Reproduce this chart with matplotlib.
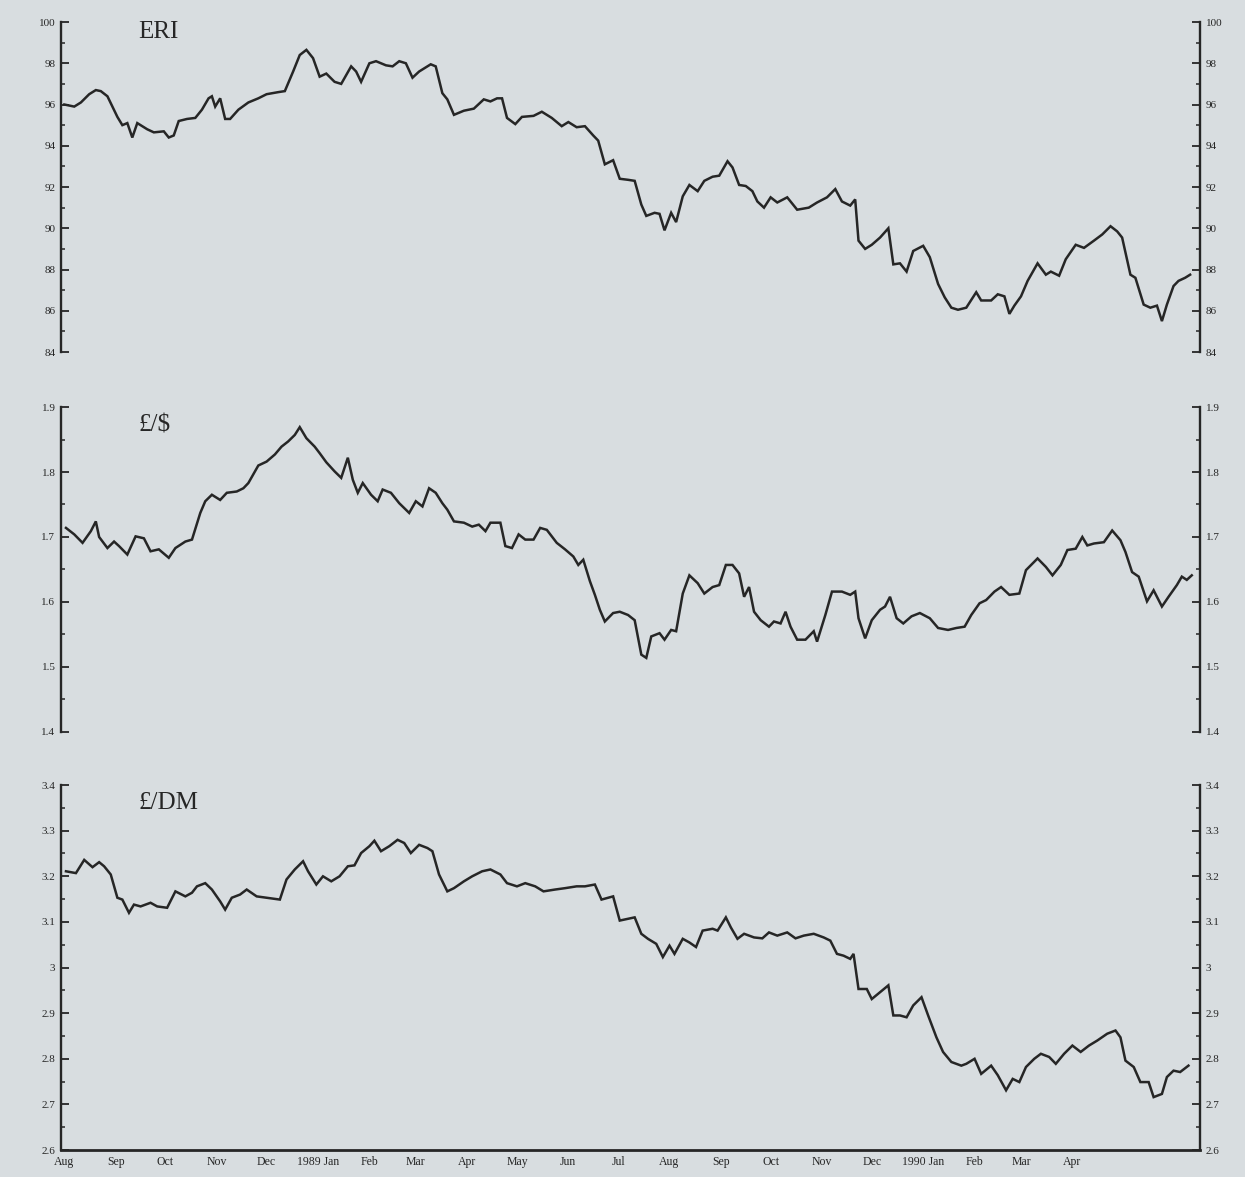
import numpy as np
import pandas as pd
import matplotlib
matplotlib.use("Agg")
import matplotlib.pyplot as plt
from matplotlib.ticker import MultipleLocator, FuncFormatter

# Sterling exchange rates, Aug 1988 - Jun 1990 (days counted from 1 Aug 1988)
start_date = "1988-08-01"

eri_days = [0, 6, 10, 15, 19, 22, 26, 29, 32, 35, 38, 41, 44, 50, 54, 60, 63, 66, 69, 74,
            79, 83, 87, 89, 91, 94, 97, 100, 105, 111, 117, 122, 129, 133, 138, 142, 146, 150,
            154, 158, 163, 167, 173, 176, 179, 184, 188, 194, 198, 202, 206, 210, 214, 221,
            224, 228, 231, 235, 241, 247, 253, 257, 261, 264, 267, 272, 276, 283, 288, 294,
            300, 304, 309, 314, 319, 322, 326, 331, 335,
            340, 344, 348, 351, 356, 359, 362, 366, 369, 373, 377, 382, 386, 391, 395, 400,
            403, 407, 411, 415, 418, 422, 426, 430, 436, 442, 449, 454, 460, 465, 469, 474,
            477, 479, 483, 487, 492, 497, 500, 504, 508, 512, 518, 522, 527, 531, 535, 539,
            544, 550, 553, 559, 563, 567, 570, 573, 577, 581, 587, 592, 595, 600, 604, 610,
            615, 621, 626, 631, 635, 638, 643, 646, 651, 655, 659, 662, 665, 669, 672, 676, 679]
eri_vals = [96.0, 95.9, 96.1, 96.5, 96.7, 96.65, 96.4, 95.9, 95.4, 95.0, 95.1, 94.4, 95.1, 94.8,
            94.65, 94.7, 94.4, 94.5, 95.2, 95.3, 95.35, 95.75, 96.3, 96.4, 95.9, 96.3, 95.3,
            95.3, 95.75, 96.1, 96.3, 96.5, 96.6, 96.65, 97.6, 98.4, 98.65, 98.25, 97.35, 97.5,
            97.1, 97.0, 97.85, 97.6, 97.1, 98.0, 98.1, 97.9, 97.85, 98.1, 98.0, 97.3, 97.6,
            97.95, 97.85, 96.55, 96.25, 95.5, 95.7, 95.8, 96.25, 96.15, 96.3, 96.3, 95.35,
            95.05, 95.4, 95.45, 95.65, 95.35, 94.95, 95.15, 94.9, 94.95, 94.5, 94.25, 93.1,
            93.3, 92.4,
            92.35, 92.3, 91.15, 90.6, 90.75, 90.7, 89.9, 90.75, 90.3, 91.55, 92.1, 91.8, 92.3,
            92.5, 92.55, 93.25, 92.95, 92.1, 92.05, 91.8, 91.3, 91.0, 91.5, 91.25, 91.5, 90.9,
            91.0, 91.25, 91.5, 91.9, 91.3, 91.1, 91.4, 89.4, 89.0, 89.2, 89.55, 90.0, 88.25,
            88.3, 87.9, 88.9, 89.15, 88.6, 87.3, 86.65, 86.15, 86.05, 86.15, 86.9, 86.5, 86.5,
            86.8, 86.7, 85.85, 86.25, 86.7, 87.45, 88.3, 87.75, 87.9, 87.7, 88.5, 89.2, 89.05,
            89.4, 89.7, 90.1, 89.85, 89.55, 87.75, 87.6, 86.3, 86.15, 86.25, 85.5, 86.3, 87.2,
            87.45, 87.6, 87.75]

usd_days = [1, 6, 11, 16, 19, 21, 26, 30, 33, 38, 43, 48, 52, 57, 63, 67, 73, 77, 82, 85, 89,
            94, 98, 104, 108, 111, 117, 122, 127, 131, 135, 139, 142, 146, 151, 154, 158, 163,
            167, 171, 174, 177, 180, 185, 189, 192, 197, 202, 208, 212, 216, 220, 224, 228,
            231, 235, 241, 246, 250, 254, 257, 263, 266, 270, 274, 278, 283, 287, 291, 297,
            302, 307, 310, 313, 317, 320, 323, 326, 331,
            335, 340, 344, 348, 351, 354, 359, 362, 366, 369, 373, 377, 382, 386, 391, 395,
            399, 403, 407, 410, 413, 416, 420, 425, 428, 432, 435, 438, 442, 447, 452, 454,
            459, 463, 469, 474, 477, 479, 483, 487, 492, 495, 498, 502, 506, 511, 516, 522,
            527, 533, 538, 543, 547, 552, 556, 561, 565, 570, 576, 580, 587, 592, 596, 601,
            605, 610, 614, 617, 621, 627, 632, 637, 640, 644, 648, 653, 657, 662, 666, 671,
            674, 677, 680]
usd_vals = [1.714, 1.704, 1.691, 1.709, 1.724, 1.700, 1.683, 1.693, 1.686, 1.673, 1.701, 1.698,
            1.678, 1.681, 1.668, 1.683, 1.693, 1.696, 1.737, 1.755, 1.765, 1.757, 1.768, 1.770,
            1.775, 1.783, 1.810, 1.816, 1.827, 1.839, 1.847, 1.857, 1.869, 1.852, 1.839, 1.829,
            1.815, 1.801, 1.791, 1.822, 1.788, 1.768, 1.783, 1.765, 1.755, 1.773, 1.768, 1.752,
            1.737, 1.755, 1.747, 1.775, 1.768, 1.752, 1.742, 1.724, 1.722, 1.716, 1.719, 1.709,
            1.722, 1.722, 1.686, 1.683, 1.704, 1.696, 1.696, 1.714, 1.711, 1.691, 1.681, 1.670,
            1.657, 1.665, 1.632, 1.611, 1.588, 1.570, 1.583,
            1.585, 1.580, 1.572, 1.519, 1.514, 1.547, 1.552, 1.542, 1.557, 1.555, 1.613, 1.641,
            1.629, 1.613, 1.623, 1.626, 1.657, 1.657, 1.644, 1.608, 1.623, 1.585, 1.572, 1.562,
            1.570, 1.567, 1.585, 1.562, 1.542, 1.542, 1.555, 1.539, 1.580, 1.616, 1.616, 1.611,
            1.616, 1.575, 1.544, 1.572, 1.588, 1.593, 1.608, 1.575, 1.567, 1.578, 1.583, 1.575,
            1.560, 1.557, 1.560, 1.562, 1.580, 1.598, 1.603, 1.616, 1.623, 1.611, 1.613, 1.649,
            1.667, 1.654, 1.641, 1.657, 1.680, 1.682, 1.700, 1.687, 1.690, 1.692, 1.710, 1.695,
            1.677, 1.646, 1.639, 1.601, 1.618, 1.593, 1.608, 1.626, 1.639, 1.634, 1.641]

dm_days = [1, 7, 12, 17, 21, 24, 28, 32, 35, 39, 42, 46, 52, 56, 62, 67, 73, 77, 80, 85, 89,
           94, 97, 101, 106, 110, 116, 122, 130, 134, 139, 144, 147, 152, 156, 161, 166, 171,
           175, 179, 184, 187, 191, 196, 201, 205, 209, 214, 219, 222, 226, 231, 235, 241,
           246, 252, 257, 263, 267, 273, 278, 284, 289, 296, 302, 309, 314, 320, 324, 331,
           335, 340, 344, 348, 352, 357, 361, 365, 368, 373, 377, 381, 385, 391, 394, 399,
           402, 406, 410, 416, 421, 425, 430, 436, 441, 446, 452, 458, 462, 466, 470, 474,
           476, 479, 484, 487, 492, 497, 500, 504, 508, 512, 517, 521, 526, 530, 535, 541,
           544, 549, 553, 559, 563, 568, 572, 576, 580, 585, 589, 594, 598, 603, 608, 613,
           618, 623, 629, 634, 637, 640, 645, 649, 654, 657, 662, 665, 669, 673, 678]
dm_vals = [3.211, 3.207, 3.236, 3.220, 3.231, 3.222, 3.204, 3.153, 3.149, 3.120, 3.138, 3.134,
           3.142, 3.134, 3.131, 3.167, 3.156, 3.164, 3.178, 3.185, 3.171, 3.145, 3.127, 3.153,
           3.160, 3.171, 3.156, 3.153, 3.149, 3.193, 3.215, 3.233, 3.211, 3.182, 3.200, 3.189,
           3.200, 3.222, 3.224, 3.251, 3.266, 3.278, 3.255, 3.266, 3.280, 3.273, 3.251, 3.269,
           3.262, 3.255, 3.204, 3.167, 3.174, 3.189, 3.200, 3.211, 3.215, 3.204, 3.185, 3.178,
           3.185, 3.178, 3.167, 3.171, 3.174, 3.178, 3.178, 3.182, 3.149, 3.156,
           3.103, 3.107, 3.110, 3.074, 3.063, 3.052, 3.023, 3.048, 3.030, 3.063, 3.055, 3.045,
           3.081, 3.085, 3.081, 3.110, 3.088, 3.063, 3.074, 3.066, 3.064, 3.077, 3.070, 3.077,
           3.064, 3.070, 3.074, 3.066, 3.059, 3.030, 3.026, 3.019, 3.030, 2.953, 2.953, 2.931,
           2.946, 2.961, 2.895, 2.895, 2.891, 2.917, 2.935, 2.895, 2.847, 2.815, 2.793, 2.785,
           2.789, 2.800, 2.767, 2.785, 2.764, 2.731, 2.756, 2.749, 2.782, 2.800, 2.811, 2.804,
           2.789, 2.811, 2.829, 2.815, 2.829, 2.840, 2.855, 2.862, 2.847, 2.796, 2.782, 2.749,
           2.749, 2.716, 2.723, 2.760, 2.774, 2.771, 2.785]

panel_titles = ["ERI", "£/\\$", "£/DM"]
y_limits = [(84, 100), (1.4, 1.9), (2.6, 3.4)]
y_major = [2, 0.1, 0.1]
y_minor = [1, 0.05, 0.05]

month_starts = pd.date_range("1988-08-01", "1990-04-01", freq="MS")
month_labels = [(f"{d.year} " if d.month == 1 else "") + d.strftime("%b") for d in month_starts]

paper = "#d8dde0"
ink = "#262626"
serif = ["Liberation Serif", "DejaVu Serif"]
plt.rcParams["font.family"] = serif

fig = plt.figure(figsize=(12.45, 11.77), dpi=100, facecolor=paper)
boxes = [(0.049, 0.7009, 0.9149, 0.2804),
         (0.049, 0.3781, 0.9149, 0.2761),
         (0.049, 0.0229, 0.9149, 0.3101)]
title_tops = [0.982, 0.648, 0.327]

base = pd.Timestamp(start_date)
series = [(eri_days, eri_vals), (usd_days, usd_vals), (dm_days, dm_vals)]

fmt = FuncFormatter(lambda v, p: f"{v:g}")

for i, (box, (days, vals)) in enumerate(zip(boxes, series)):
    ax = fig.add_axes(box)
    ax.set_facecolor(paper)
    dates = base + pd.to_timedelta(np.array(days), unit="D")
    ax.plot(dates, vals, color=ink, lw=1.8, solid_joinstyle="miter")

    ax.set_xlim(base - pd.Timedelta(days=2), base + pd.Timedelta(days=685))
    ax.set_ylim(*y_limits[i])
    ax.yaxis.set_major_locator(MultipleLocator(y_major[i]))
    ax.yaxis.set_minor_locator(MultipleLocator(y_minor[i]))
    ax.yaxis.set_major_formatter(fmt)

    for side in ("left", "right"):
        ax.spines[side].set_color(ink)
        ax.spines[side].set_linewidth(1.7)
    ax.spines["top"].set_visible(False)
    ax.spines["bottom"].set_visible(i == 2)
    ax.spines["bottom"].set_color(ink)
    ax.spines["bottom"].set_linewidth(2.0)

    ax.tick_params(axis="y", which="both", direction="in", left=True, right=True,
                   labelleft=True, labelright=True, colors=ink, labelsize=8, pad=4)
    ax.tick_params(axis="y", which="major", length=6, width=1.3)
    ax.tick_params(axis="y", which="minor", length=3, width=1.1)

    ax.set_xticks(month_starts)
    if i == 2:
        ax.set_xticklabels(month_labels)
        ax.tick_params(axis="x", length=0, labelsize=8.5, colors=ink, pad=4)
    else:
        ax.tick_params(axis="x", length=0, labelbottom=False)

    fig.text(0.111, title_tops[i], panel_titles[i], fontsize=18, color=ink,
             ha="left", va="top")

fig.savefig("out.png", dpi=100, facecolor=paper)
